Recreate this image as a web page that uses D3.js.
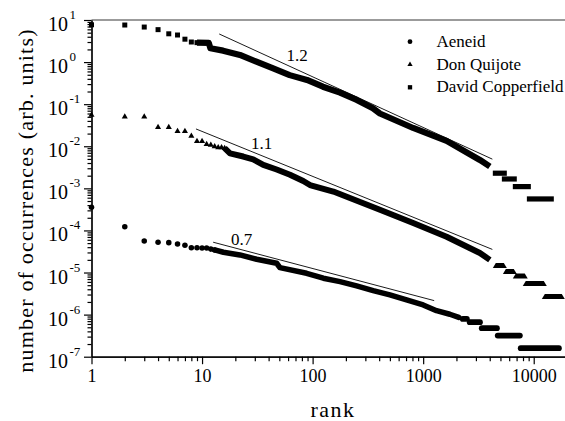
<!DOCTYPE html>
<html>
<head>
<meta charset="utf-8">
<script src="https://cdn.jsdelivr.net/npm/d3@7"></script>
<style>
  body { margin: 0; background: #fff; }
  svg { display: block; font-family: "Liberation Serif", "Times New Roman", serif; }
</style>
</head>
<body>
<script>
// values (rank -> occurrences, arb. units)
const names = ["Aeneid", "Don Quijote", "David Copperfield"]

// first ranks, one marker each (rank = index + 1)
const aeneidFirst = [3.56e-4, 1.23e-4, 5.63e-5, 5.25e-5, 5.13e-5, 4.78e-5, 4.45e-5, 3.9e-5, 3.9e-5, 3.84e-5, 3.84e-5, 3.6e-5, 3.44e-5]
const quijoteFirst = [0.0553, 0.0504, 0.0504, 0.0282, 0.0282, 0.0227, 0.0227, 0.0176, 0.0131, 0.0131, 0.0112, 0.0107, 0.0099, 0.0093, 0.0093, 0.009]
const copperfieldFirst = [7.7, 7.6, 6.8, 5.9, 4.7, 4.4, 3.5, 3.0, 2.9]

// dense part, where markers merge into a band: [rank, value]
const aeneidBand = [[13, 3.44e-5], [15.6, 3.03e-5], [22, 2.62e-5], [31.2, 2.07e-5], [47.3, 1.66e-5], [50.6, 1.31e-5],
    [88.3, 9.6e-6], [125, 7.32e-6], [177, 6.08e-6], [250, 4.81e-6], [353, 3.72e-6], [500, 2.94e-6],
    [708, 2.23e-6], [1000, 1.70e-6], [1321, 1.24e-6], [1743, 1.02e-6], [2100, 8.6e-7]]
const quijoteBand = [[16, 0.009], [17.9, 0.0068], [23.6, 0.0057], [29, 0.0049], [35.8, 0.0036], [47.3, 0.0028],
    [62.4, 0.0021], [82.3, 0.0015], [94.6, 0.0012], [154, 8.4e-4], [406, 3.1e-4], [812, 1.5e-4],
    [1629, 7.1e-5], [3258, 2.9e-5], [4010, 2.0e-5]]
const copperfieldBand = [[9, 2.9], [11.5, 2.85], [11.9, 2.13], [15.5, 1.87], [22, 1.48], [31, 1.02], [44, 0.71],
    [62, 0.49], [89, 0.376], [124, 0.26], [177, 0.188], [251, 0.126], [351, 0.08], [406, 0.06],
    [812, 0.0272], [1629, 0.0134], [3258, 0.00473], [4010, 0.00331]]

// tail plateaus (same count for many ranks): [first rank, last rank, value]
const aeneidSteps = [[2148, 2640, 7.9e-7], [2483, 3467, 6.6e-7], [3190, 4937, 4.75e-7], [4448, 7960, 3.17e-7], [7180, 17950, 1.59e-7]]
const quijoteSteps = [[4266, 5711, 1.46e-5], [5260, 7030, 1.06e-5], [6470, 8830, 8.3e-6], [7960, 13130, 5.45e-6], [11840, 19100, 2.71e-6]]
const copperfieldSteps = [[4266, 5711, 2.29e-3], [5150, 7030, 1.67e-3], [6470, 9420, 1.10e-3], [8670, 15200, 5.6e-4]]

// power-law guide lines: [rank, value] at both ends, label and where it sits
const guideFrom = [[12.6, 5.25e-5], [8.81, 0.0258], [14.3, 4.65]]
const guideTo = [[1258, 2.15e-6], [4225, 3.54e-5], [4225, 4.94e-3]]
const guideLabels = ["0.7", "1.1", "1.2"]
const guideLabelAt = [[22.8, 4.53e-5], [34.6, 8.5e-3], [72.6, 1.08]]

const xMajor = [1, 10, 100, 1000, 10000]
const yMajor = [1e-7, 1e-6, 1e-5, 1e-4, 1e-3, 1e-2, 1e-1, 1, 10]
const yExponents = ["-7", "-6", "-5", "-4", "-3", "-2", "-1", "0", "1"]

const width = 565
const height = 421

const x = d3.scaleLog().domain([1, 20000]).range([91.5, 567])
const y = d3.scaleLog().domain([1e-7, 10]).range([356.7, 20])

const svg = d3.select("body")
    .append("svg")
    .attr("width", width)
    .attr("height", height)

// top frame line
svg.append("line")
    .attr("x1", x(1)).attr("x2", width)
    .attr("y1", y(10)).attr("y2", y(10))
    .attr("stroke", "#7a7a7a")
    .attr("stroke-width", 1.5)

// minor ticks
const xMinor = []
xMajor.forEach((d) => d3.range(2, 10).forEach((k) => { if (k * d < 20000) xMinor.push(k * d) }))
const yMinor = []
yMajor.slice(0, -1).forEach((d) => d3.range(2, 10).forEach((k) => yMinor.push(k * d)))

svg.append("g")
    .attr("transform", `translate(0,${y(1e-7)})`)
    .call(d3.axisBottom(x).tickValues(xMinor).tickSize(4.5).tickSizeOuter(0).tickFormat(""))
const xAxis = svg.append("g")
    .attr("transform", `translate(0,${y(1e-7)})`)
    .call(d3.axisBottom(x).tickValues(xMajor).tickSize(7.5).tickSizeOuter(0).tickPadding(5.5).tickFormat(d3.format("d")))
xAxis.selectAll("text")
    .attr("font-family", "Liberation Serif")
    .attr("font-size", 18)
    .attr("fill", "#000")

svg.append("g")
    .attr("transform", `translate(${x(1)},0)`)
    .call(d3.axisLeft(y).tickValues(yMinor).tickSize(4).tickSizeOuter(0).tickFormat(""))
const yAxis = svg.append("g")
    .attr("transform", `translate(${x(1)},0)`)
    .call(d3.axisLeft(y).tickValues(yMajor).tickSize(7.5).tickSizeOuter(0).tickFormat(""))

yAxis.selectAll(".tick").each(function (d, i) {
    const t = d3.select(this).append("text")
        .attr("x", -43.5)
        .attr("y", 10.5)
        .attr("text-anchor", "start")
        .attr("fill", "#000")
        .attr("font-family", "Liberation Serif")
        .attr("font-size", 20)
    t.append("tspan").text("10")
    t.append("tspan")
        .attr("dx", 1.5)
        .attr("dy", -12)
        .attr("font-size", 13)
        .text(yExponents[i])
})

svg.selectAll(".domain, .tick line")
    .attr("stroke", "#000")
    .attr("stroke-width", 1.2)

// series
const shapes = [d3.symbolCircle, d3.symbolTriangle, d3.symbolSquare]
const sizes = [24, 16, 25]
const firsts = [aeneidFirst, quijoteFirst, copperfieldFirst]
const bands = [aeneidBand, quijoteBand, copperfieldBand]
const steps = [aeneidSteps, quijoteSteps, copperfieldSteps]
const bandWidths = [5.5, 6, 6.2]
const stepHeights = [5.8, 5, 5.2]

const band = d3.line()
    .x((d) => x(d[0]))
    .y((d) => y(d[1]))

const plot = svg.append("g")

names.forEach((name, s) => {
    const g = plot.append("g")

    g.append("path")
        .attr("fill", "none")
        .attr("stroke", "#000")
        .attr("stroke-width", bandWidths[s])
        .attr("stroke-linejoin", "round")
        .attr("stroke-linecap", s === 0 ? "round" : "butt")
        .attr("d", band(bands[s]))

    const h = stepHeights[s]
    g.selectAll("path.step")
        .data(steps[s])
        .join("path")
        .attr("class", "step")
        .attr("fill", "#000")
        .attr("d", (d) => {
            const x1 = x(d[0]), x2 = x(d[1]), yc = y(d[2])
            if (s === 1) {
                const k = h * 0.6
                return `M${x1},${yc + h / 2}L${x1 + k},${yc - h / 2}L${x2 - k},${yc - h / 2}L${x2},${yc + h / 2}Z`
            }
            const r = s === 0 ? h / 2 : 0
            return `M${x1 + r},${yc - h / 2}L${x2 - r},${yc - h / 2}` +
                (r ? `A${r},${r} 0 0 1 ${x2 - r},${yc + h / 2}` : `L${x2},${yc - h / 2}L${x2},${yc + h / 2}`) +
                `L${x1 + r},${yc + h / 2}` +
                (r ? `A${r},${r} 0 0 1 ${x1 + r},${yc - h / 2}Z` : `L${x1},${yc + h / 2}Z`)
        })

    g.selectAll("path.pt")
        .data(firsts[s])
        .join("path")
        .attr("class", "pt")
        .attr("fill", "#000")
        .attr("transform", (d, i) => `translate(${x(i + 1)},${y(d)})`)
        .attr("d", d3.symbol().type(shapes[s]).size(sizes[s]))
})

// guide lines with exponents
guideLabels.forEach((label, i) => {
    svg.append("line")
        .attr("x1", x(guideFrom[i][0])).attr("y1", y(guideFrom[i][1]))
        .attr("x2", x(guideTo[i][0])).attr("y2", y(guideTo[i][1]))
        .attr("stroke", "#000")
        .attr("stroke-width", 0.9)
    svg.append("text")
        .attr("x", x(guideLabelAt[i][0]))
        .attr("y", y(guideLabelAt[i][1]))
        .attr("text-anchor", "middle")
        .attr("font-size", 17)
        .text(label)
})

// legend
const legend = svg.append("g").attr("transform", "translate(410,0)")
names.forEach((name, i) => {
    const base = 46.7 + i * 22.8
    legend.append("path")
        .attr("transform", `translate(0,${base - 5})`)
        .attr("d", d3.symbol().type(shapes[i]).size(sizes[i] * 0.75))
        .attr("fill", "#000")
    legend.append("text")
        .attr("x", 26.5)
        .attr("y", base)
        .attr("font-size", 17)
        .text(name)
})

// axis titles
svg.append("text")
    .attr("x", 333)
    .attr("y", 417)
    .attr("text-anchor", "middle")
    .attr("font-size", 22)
    .attr("letter-spacing", 1.5)
    .text("rank")

svg.append("text")
    .attr("transform", "translate(32.5,200.5) rotate(-90)")
    .attr("text-anchor", "middle")
    .attr("font-size", 22)
    .attr("letter-spacing", 1.2)
    .text("number of occurrences (arb. units)")
</script>
</body>
</html>
